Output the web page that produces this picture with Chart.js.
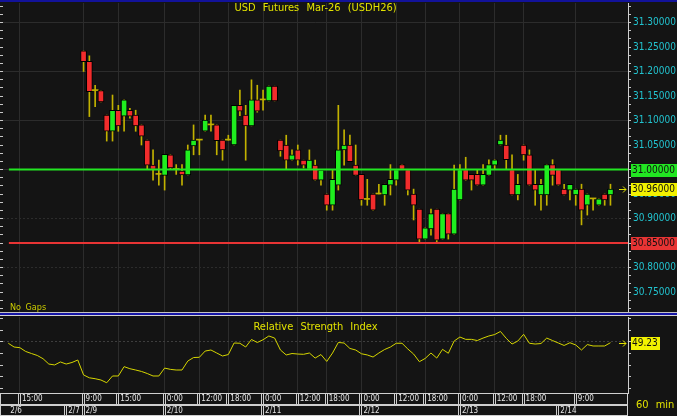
<!DOCTYPE html>
<html>
<head>
<meta charset="utf-8">
<script src="https://cdn.jsdelivr.net/npm/chart.js@4.4.1/dist/chart.umd.min.js"></script>
<style>
  html, body { margin: 0; padding: 0; background: #141414; }
  #wrap { position: relative; width: 677px; height: 416px; overflow: hidden; background: #141414; }
  canvas { position: absolute; left: 0; }
  #priceChart { top: 0; }
  #rsiChart { top: 316px; }
  .rule { position: absolute; left: 0; width: 677px; }
  .txt { position: absolute; color: #e2e200; white-space: nowrap;
         font-family: 'DejaVu Sans Condensed', 'Liberation Sans Narrow', 'Liberation Sans', sans-serif; }
</style>
</head>
<body>
<div id="wrap">
  <canvas id="priceChart" width="677" height="312"></canvas>
  <canvas id="rsiChart" width="677" height="100"></canvas>
  <div class="rule" style="top:0;height:2px;background:#12129a"></div>
  <div class="rule" style="top:312px;height:1px;background:#c4c4c4"></div>
  <div class="rule" style="top:313px;height:2px;background:#1616a6"></div>
  <div class="rule" style="top:315px;height:1px;background:#d4d4d4"></div>
  <div class="txt" style="left:0;width:631px;top:2px;line-height:12px;text-align:center;font-size:11px;word-spacing:4px">USD Futures Mar-26 (USDH26)</div>
  <div class="txt" style="left:10px;top:302px;line-height:10px;font-size:9px;word-spacing:2px;color:#cccc00">No Gaps</div>
  <div class="txt" style="left:0;width:631px;top:321px;line-height:12px;text-align:center;font-size:11px;word-spacing:4px">Relative Strength Index</div>
  <div class="txt" style="left:636px;top:399px;line-height:12px;font-size:11px;word-spacing:4px">60 min</div>
</div>

<script>
// x positions are hourly bar slots (No Gaps), slot 0 = first bar of 2/6 on screen
const timeTickSlots  = [2, 13, 19, 27, 33, 38, 44, 50, 55, 61, 67, 72, 78, 84, 89, 98];
const timeTickLabels = ['15:00', '9:00', '15:00', '0:00', '12:00', '18:00', '0:00', '12:00',
                        '18:00', '0:00', '12:00', '18:00', '0:00', '12:00', '18:00', '9:00'];
const dateTickSlots  = [0, 10, 13, 27, 44, 61, 78, 95];
const dateTickLabels = ['2/6', '2/7', '2/9', '2/10', '2/11', '2/12', '2/13', '2/14'];

// candles, slot 13 .. 104
const firstCandleSlot = 13;
const opens = [
  31.242, 31.221, 31.161, 31.161, 31.111, 31.078, 31.121, 31.109, 31.121, 31.111,
  31.091, 31.060, 31.009, 30.990, 30.988, 31.030, 31.000, 30.997, 30.989, 31.048,
  31.060, 31.078, 31.091, 31.091, 31.060, 31.060, 31.050, 31.131, 31.111, 31.089,
  31.142, 31.142, 31.140, 31.170, 31.060, 31.050, 31.019, 31.040, 31.019, 31.000,
  31.009, 30.978, 30.950, 30.927, 30.968, 31.040, 31.050, 31.009, 30.990, 30.939,
  30.950, 30.950, 30.948, 30.968, 30.978, 31.010, 31.000, 30.950, 30.919, 30.858,
  30.879, 30.919, 30.858, 30.910, 30.868, 30.938, 31.000, 30.990, 30.990, 30.968,
  30.988, 31.009, 31.050, 31.050, 31.000, 30.948, 31.050, 31.030, 30.970, 30.948,
  30.948, 31.010, 31.000, 30.960, 30.958, 30.948, 30.960, 30.927, 30.940, 30.927, 30.950, 30.948
];
const highs = [
  31.242, 31.232, 31.172, 31.161, 31.111, 31.152, 31.131, 31.142, 31.125, 31.121,
  31.091, 31.060, 31.040, 31.019, 31.031, 31.030, 31.010, 31.010, 31.050, 31.091,
  31.060, 31.111, 31.111, 31.091, 31.060, 31.070, 31.131, 31.162, 31.131, 31.183,
  31.172, 31.162, 31.170, 31.170, 31.060, 31.070, 31.040, 31.050, 31.019, 31.040,
  31.019, 31.000, 30.950, 31.000, 31.131, 31.081, 31.070, 31.050, 30.990, 30.980,
  30.950, 30.970, 30.970, 31.010, 31.000, 31.010, 31.000, 30.960, 30.919, 30.881,
  30.919, 30.919, 30.910, 30.910, 31.009, 31.010, 31.025, 30.990, 31.000, 31.010,
  31.020, 31.020, 31.070, 31.070, 31.030, 30.990, 31.050, 31.040, 31.000, 30.980,
  31.010, 31.020, 31.000, 30.970, 30.970, 30.960, 30.970, 30.950, 30.940, 30.940, 30.950, 30.970
];
const lows = [
  31.200, 31.108, 31.128, 31.138, 31.058, 31.058, 31.078, 31.078, 31.105, 31.078,
  31.050, 31.000, 30.978, 30.968, 30.958, 31.000, 30.990, 30.968, 30.989, 31.030,
  31.030, 31.078, 31.078, 31.030, 31.019, 31.060, 31.050, 31.110, 31.019, 31.089,
  31.117, 31.121, 31.140, 31.140, 31.027, 31.000, 31.019, 31.009, 31.003, 31.000,
  30.978, 30.968, 30.917, 30.917, 30.958, 31.009, 31.016, 30.988, 30.927, 30.927,
  30.917, 30.950, 30.927, 30.948, 30.968, 31.000, 30.948, 30.897, 30.850, 30.858,
  30.866, 30.850, 30.858, 30.858, 30.868, 30.938, 30.978, 30.958, 30.968, 30.968,
  30.988, 31.000, 31.050, 31.000, 30.948, 30.938, 31.019, 30.968, 30.927, 30.917,
  30.927, 30.968, 30.968, 30.948, 30.938, 30.927, 30.887, 30.907, 30.917, 30.927, 30.927, 30.927
];
const closes = [
  31.220, 31.159, 31.161, 31.138, 31.078, 31.121, 31.089, 31.142, 31.109, 31.089,
  31.068, 31.009, 31.000, 30.990, 31.031, 31.003, 31.000, 30.989, 31.040, 31.060,
  31.060, 31.101, 31.091, 31.059, 31.040, 31.060, 31.131, 31.119, 31.089, 31.142,
  31.119, 31.142, 31.170, 31.140, 31.038, 31.019, 31.030, 31.019, 31.009, 31.019,
  30.978, 30.999, 30.927, 30.980, 31.040, 31.050, 31.016, 30.988, 30.938, 30.939,
  30.917, 30.950, 30.970, 30.980, 31.000, 31.000, 30.958, 30.927, 30.858, 30.881,
  30.910, 30.856, 30.910, 30.868, 30.960, 31.000, 30.978, 30.978, 30.968, 30.990,
  31.010, 31.020, 31.060, 31.020, 30.948, 30.970, 31.030, 30.968, 30.958, 30.970,
  31.010, 30.988, 30.968, 30.948, 30.970, 30.960, 30.917, 30.950, 30.940, 30.940, 30.938, 30.960
];

// RSI, slot 0 .. 104
const rsiValues = [
  48.8, 45.9, 45.4, 42.5, 40.9, 39.4, 36.9, 32.8, 32.1, 34.4,
  32.8, 34.0, 35.9, 24.4, 22.2, 21.5, 20.5, 18.4, 23.6, 23.6,
  30.8, 29.2, 28.2, 27.1, 25.5, 23.6, 23.6, 29.7, 28.7, 28.2,
  28.2, 35.1, 37.8, 38.0, 42.8, 43.6, 41.3, 39.0, 40.1, 49.0,
  48.8, 45.9, 51.7, 49.4, 51.5, 54.4, 52.8, 43.6, 39.8, 40.9,
  40.5, 40.3, 41.3, 37.4, 40.1, 34.8, 41.3, 49.4, 49.0, 44.8,
  43.6, 40.7, 39.8, 38.2, 41.3, 44.0, 45.9, 48.8, 48.8, 44.4,
  40.5, 34.6, 37.1, 41.3, 37.4, 44.1, 41.1, 50.5, 53.6, 51.8,
  51.8, 50.9, 52.8, 54.4, 55.5, 57.9, 52.6, 48.2, 50.5, 55.7,
  48.8, 48.2, 48.6, 52.8, 50.9, 49.0, 47.1, 49.2, 47.5, 43.6,
  47.8, 46.7, 46.7, 46.7, 49.23
];

const priceTicks = [30.75, 30.80, 30.85, 30.90, 30.95, 31.00, 31.05, 31.10, 31.15, 31.20, 31.25, 31.30];
const levelValues = [31.00, 30.85];
const levelColors = ['#22e622', '#e83434'];
const rsiTickValues = [14, 23, 32, 41, 50, 59, 68];
const rsiMidline = 50;

// view ranges
const xMin = -0.915, xMax = 107.03;
const priceMin = 30.7092, priceMax = 31.3398;
const rsiMin = 10.5, rsiMax = 69.02;

const GRID = '#2c2c2c';
const AXIS_FONT = "'DejaVu Sans Condensed', 'Liberation Sans Narrow', 'Liberation Sans', sans-serif";
const UP = '#1fee1f', DOWN = '#f22c2c', WICK = '#c2b200';

const candleSlots = opens.map((_, i) => firstCandleSlot + i);
const lastPrice = closes[closes.length - 1];
const lastRsi = rsiValues[rsiValues.length - 1];

// right-axis minor ticks: thirds between labelled ones
const step = (priceTicks[1] - priceTicks[0]) / 3;
const priceAxisTicks = [];
for (let k = -3; k <= 40; k++) {
  const v = priceTicks[0] + k * step;
  if (v >= priceMin && v <= priceMax) priceAxisTicks.push(v);
}
const isMajor = v => Math.abs(v * 20 - Math.round(v * 20)) < 1e-6;
const isGrid = v => Math.abs(v * 10 - Math.round(v * 10)) < 1e-6;
const isDoji = i => Math.abs(opens[i] - closes[i]) < 0.002;

const fixWidth = w => s => { s.width = w; s.paddingTop = 0; s.paddingBottom = 0; };
const noPad = s => { s.paddingLeft = 0; s.paddingRight = 0; };

function arrow(ctx, x, y) {
  ctx.strokeStyle = '#e0e000';
  ctx.lineWidth = 1;
  ctx.beginPath();
  ctx.moveTo(x, y + 0.5); ctx.lineTo(x + 7, y + 0.5);
  ctx.moveTo(x + 4, y - 2.5); ctx.lineTo(x + 7, y + 0.5); ctx.lineTo(x + 4, y + 3.5);
  ctx.stroke();
}

function valueBox(ctx, scale, value, text, bg, w) {
  const py = Math.round(scale.getPixelForValue(value));
  ctx.fillStyle = bg;
  ctx.fillRect(scale.left + 3, py - 6, w, 13);
  ctx.fillStyle = '#101010';
  ctx.fillText(text, scale.left + 4, py + 0.5);
}

const priceMarkers = {
  id: 'priceMarkers',
  afterDraw(chart) {
    const ctx = chart.ctx, y = chart.scales.y;
    ctx.save();
    ctx.font = '10px ' + AXIS_FONT;
    ctx.textBaseline = 'middle';
    levelValues.forEach((v, i) => valueBox(ctx, y, v, v.toFixed(5), levelColors[i], 46));
    valueBox(ctx, y, lastPrice, lastPrice.toFixed(5), '#f2f200', 46);
    arrow(ctx, chart.chartArea.right - 9, Math.round(y.getPixelForValue(lastPrice)));
    ctx.restore();
  }
};

const rsiMarkers = {
  id: 'rsiMarkers',
  afterDraw(chart) {
    const ctx = chart.ctx, r = chart.scales.rsi;
    ctx.save();
    ctx.font = '10px ' + AXIS_FONT;
    ctx.textBaseline = 'middle';
    valueBox(ctx, r, lastRsi, lastRsi.toFixed(2), '#f2f200', 29);
    arrow(ctx, chart.chartArea.right - 9, Math.round(r.getPixelForValue(lastRsi)));
    ctx.restore();
  }
};

// boxed cells of the two time-axis rows
const axisCells = {
  id: 'axisCells',
  afterDraw(chart) {
    const ctx = chart.ctx;
    ctx.save();
    ctx.strokeStyle = '#cfcfcf';
    ctx.lineWidth = 1;
    [[chart.scales.x, timeTickSlots], [chart.scales.x2, dateTickSlots]].forEach(([sc, slots]) => {
      const top = Math.round(sc.top) + 0.5, bot = Math.round(sc.bottom) - 0.5;
      ctx.beginPath();
      ctx.moveTo(0, top); ctx.lineTo(sc.right, top);
      ctx.moveTo(0, bot); ctx.lineTo(sc.right, bot);
      ctx.moveTo(0.5, top); ctx.lineTo(0.5, bot);
      ctx.moveTo(sc.right - 0.5, top); ctx.lineTo(sc.right - 0.5, bot);
      slots.forEach(v => {
        const px = Math.round(sc.getPixelForValue(v));
        if (px < 12) return;
        ctx.moveTo(px + 0.5, top); ctx.lineTo(px + 0.5, bot);
        ctx.moveTo(px - 1.5, top); ctx.lineTo(px - 1.5, bot);
      });
      ctx.stroke();
    });
    ctx.restore();
  }
};

Chart.defaults.animation = false;
Chart.defaults.responsive = false;
Chart.defaults.plugins.legend.display = false;
Chart.defaults.plugins.tooltip.enabled = false;

new Chart(document.getElementById('priceChart'), {
  type: 'bar',
  data: {
    datasets: [
      ...levelValues.map((v, i) => ({
        type: 'line',
        data: [{ x: 0.1, y: v }, { x: xMax, y: v }],
        borderColor: levelColors[i],
        borderWidth: 2,
        pointRadius: 0,
        order: 0
      })),
      {
        label: 'body',
        data: candleSlots.map((s, i) => ({ x: s, y: [opens[i], closes[i]] })),
        backgroundColor: c => isDoji(c.dataIndex) ? WICK : (closes[c.dataIndex] > opens[c.dataIndex] ? UP : DOWN),
        borderColor: '#000',
        borderWidth: c => isDoji(c.dataIndex) ? 0 : 1,
        borderSkipped: false,
        barThickness: 6,
        minBarLength: 1,
        grouped: false,
        order: 1
      },
      {
        label: 'wick',
        data: candleSlots.map((s, i) => ({ x: s, y: [lows[i], highs[i]] })),
        backgroundColor: WICK,
        borderWidth: 0,
        barThickness: 1,
        grouped: false,
        order: 2
      }
    ]
  },
  options: {
    layout: { padding: { top: 3, left: 0, right: 0, bottom: 0 }, autoPadding: false },
    scales: {
      x: {
        type: 'linear', min: xMin, max: xMax, offset: false,
        afterBuildTicks: s => { s.ticks = timeTickSlots.map(v => ({ value: v })); },
        ticks: { display: false },
        grid: { color: GRID, drawTicks: false, offset: false },
        border: { display: false }
      },
      y: {
        position: 'right', min: priceMin, max: priceMax,
        afterBuildTicks: s => { s.ticks = priceAxisTicks.map(v => ({ value: v })); },
        afterFit: fixWidth(49),
        ticks: {
          autoSkip: false, padding: 2, color: '#22c3cf',
          font: { family: AXIS_FONT, size: 10 },
          callback: v => isMajor(v) ? v.toFixed(5) : ''
        },
        grid: {
          color: c => (c.tick && isGrid(c.tick.value)) ? GRID : 'rgba(0,0,0,0)',
          tickColor: '#c8c8c8', tickLength: 3
        },
        border: { color: '#cfcfcf', width: 1, dash: c => (c.tick && c.tick.value < 30.95) ? [2, 2] : [] }
      },
      yL: {
        position: 'left', min: priceMin, max: priceMax,
        afterBuildTicks: s => { s.ticks = priceAxisTicks.map(v => ({ value: v })); },
        afterFit: fixWidth(3),
        ticks: { display: false },
        grid: { drawOnChartArea: false, tickColor: '#c8c8c8', tickLength: 3 },
        border: { display: false }
      }
    }
  },
  plugins: [priceMarkers]
});

new Chart(document.getElementById('rsiChart'), {
  type: 'line',
  data: {
    datasets: [{
      label: 'RSI',
      data: rsiValues.map((v, i) => ({ x: i, y: v })),
      borderColor: '#d6d600',
      borderWidth: 1,
      pointRadius: 0,
      tension: 0,
      yAxisID: 'rsi'
    }]
  },
  options: {
    layout: { padding: { top: 1, left: 0, right: 0, bottom: 0 }, autoPadding: false },
    scales: {
      x: {
        type: 'linear', position: 'bottom', weight: 0, min: xMin, max: xMax,
        afterBuildTicks: s => { s.ticks = timeTickSlots.map(v => ({ value: v })); },
        afterFit: noPad,
        ticks: {
          autoSkip: false, maxRotation: 0, align: 'start', labelOffset: 2, padding: 0,
          color: '#e6e6e6', font: { family: AXIS_FONT, size: 8, lineHeight: '12px' },
          callback: (v, i) => timeTickLabels[i]
        },
        grid: { color: GRID, drawTicks: false, tickLength: 0 },
        border: { display: false }
      },
      x2: {
        type: 'linear', position: 'bottom', weight: 1, min: xMin, max: xMax,
        afterBuildTicks: s => { s.ticks = dateTickSlots.map(v => ({ value: v })); },
        afterFit: noPad,
        ticks: {
          autoSkip: false, maxRotation: 0, align: 'start', labelOffset: 2, padding: 0,
          color: '#e6e6e6', font: { family: AXIS_FONT, size: 8, lineHeight: '11px' },
          callback: (v, i) => dateTickLabels[i]
        },
        grid: { display: false, drawTicks: false, tickLength: 0 },
        border: { display: false }
      },
      rsi: {
        position: 'right', min: rsiMin, max: rsiMax,
        afterBuildTicks: s => { s.ticks = rsiTickValues.map(v => ({ value: v })); },
        afterFit: fixWidth(49),
        ticks: { display: false },
        grid: {
          color: c => (c.tick && c.tick.value === rsiMidline) ? '#3e3e3e' : 'rgba(0,0,0,0)',
          tickColor: '#c8c8c8', tickLength: 3
        },
        border: { color: '#cfcfcf', width: 1, dash: c => c.tick ? [2, 2] : [] }
      },
      rsiL: {
        position: 'left', min: rsiMin, max: rsiMax,
        afterBuildTicks: s => { s.ticks = rsiTickValues.map(v => ({ value: v })); },
        afterFit: fixWidth(3),
        ticks: { display: false },
        grid: { drawOnChartArea: false, tickColor: '#c8c8c8', tickLength: 3 },
        border: { display: false }
      }
    }
  },
  plugins: [axisCells, rsiMarkers]
});
</script>
</body>
</html>
